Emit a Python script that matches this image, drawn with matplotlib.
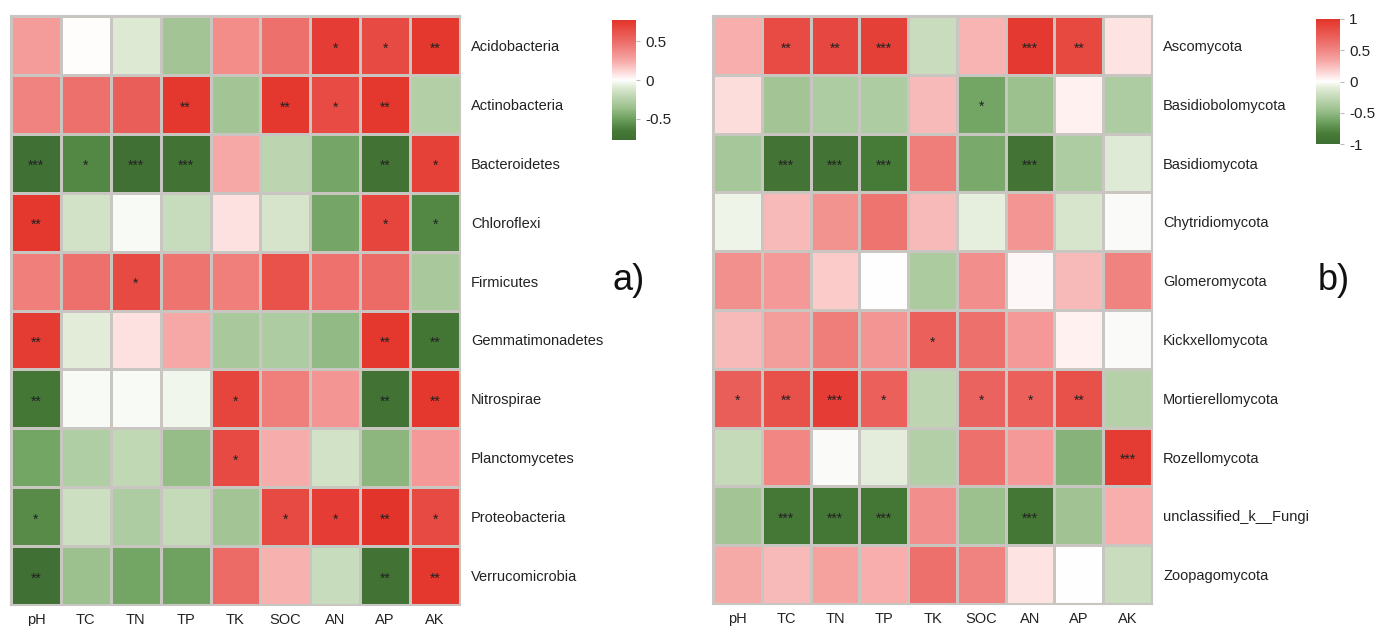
import numpy as np
import matplotlib
matplotlib.use("Agg")
import matplotlib.pyplot as plt
from matplotlib.colors import LinearSegmentedColormap, Normalize

plt.rcParams['font.family'] = ['Liberation Sans', 'DejaVu Sans']

columns = ["pH", "TC", "TN", "TP", "TK", "SOC", "AN", "AP", "AK"]

bacteria = ["Acidobacteria", "Actinobacteria", "Bacteroidetes", "Chloroflexi", "Firmicutes",
            "Gemmatimonadetes", "Nitrospirae", "Planctomycetes", "Proteobacteria", "Verrucomicrobia"]
bact_r = [
    [0.30, 0.01, -0.10, -0.32, 0.36, 0.48, 0.72, 0.66, 0.75],
    [0.40, 0.48, 0.56, 0.75, -0.32, 0.75, 0.65, 0.75, -0.26],
    [-0.75, -0.60, -0.75, -0.72, 0.25, -0.22, -0.47, -0.72, 0.70],
    [0.75, -0.14, -0.02, -0.18, 0.08, -0.13, -0.47, 0.68, -0.60],
    [0.42, 0.48, 0.66, 0.46, 0.42, 0.62, 0.47, 0.50, -0.30],
    [0.73, -0.08, 0.08, 0.25, -0.30, -0.28, -0.38, 0.74, -0.70],
    [-0.68, -0.02, -0.02, -0.04, 0.68, 0.42, 0.33, -0.72, 0.74],
    [-0.48, -0.27, -0.20, -0.37, 0.66, 0.24, -0.14, -0.40, 0.31],
    [-0.58, -0.16, -0.28, -0.19, -0.32, 0.66, 0.72, 0.76, 0.66],
    [-0.75, -0.35, -0.48, -0.49, 0.50, 0.22, -0.18, -0.72, 0.75],
]
bact_sig = [
    ["", "", "", "", "", "", "*", "*", "**"],
    ["", "", "", "**", "", "**", "*", "**", ""],
    ["***", "*", "***", "***", "", "", "", "**", "*"],
    ["**", "", "", "", "", "", "", "*", "*"],
    ["", "", "*", "", "", "", "", "", ""],
    ["**", "", "", "", "", "", "", "**", "**"],
    ["**", "", "", "", "*", "", "", "**", "**"],
    ["", "", "", "", "*", "", "", "", ""],
    ["*", "", "", "", "", "*", "*", "**", "*"],
    ["**", "", "", "", "", "", "", "**", "**"],
]

fungi = ["Ascomycota", "Basidiobolomycota", "Basidiomycota", "Chytridiomycota", "Glomeromycota",
         "Kickxellomycota", "Mortierellomycota", "Rozellomycota", "unclassified_k__Fungi", "Zoopagomycota"]
fung_r = [
    [0.30, 0.85, 0.87, 0.92, -0.22, 0.28, 0.96, 0.86, 0.10],
    [0.12, -0.42, -0.36, -0.36, 0.25, -0.62, -0.46, 0.05, -0.36],
    [-0.40, -0.92, -0.92, -0.85, 0.55, -0.60, -0.92, -0.36, -0.12],
    [-0.06, 0.25, 0.43, 0.60, 0.25, -0.09, 0.42, -0.16, -0.02],
    [0.45, 0.40, 0.19, 0.0, -0.37, 0.46, 0.03, 0.25, 0.52],
    [0.25, 0.38, 0.55, 0.42, 0.72, 0.62, 0.40, 0.05, -0.02],
    [0.73, 0.82, 0.93, 0.72, -0.28, 0.70, 0.72, 0.82, -0.32],
    [-0.25, 0.50, -0.02, -0.10, -0.33, 0.62, 0.40, -0.54, 0.95],
    [-0.42, -0.88, -0.90, -0.90, 0.46, -0.46, -0.90, -0.43, 0.30],
    [0.32, 0.25, 0.36, 0.30, 0.62, 0.52, 0.10, 0.0, -0.22],
]
fung_sig = [
    ["", "**", "**", "***", "", "", "***", "**", ""],
    ["", "", "", "", "", "*", "", "", ""],
    ["", "***", "***", "***", "", "", "***", "", ""],
    ["", "", "", "", "", "", "", "", ""],
    ["", "", "", "", "", "", "", "", ""],
    ["", "", "", "", "*", "", "", "", ""],
    ["*", "**", "***", "*", "", "*", "*", "**", ""],
    ["", "", "", "", "", "", "", "", "***"],
    ["", "***", "***", "***", "", "", "***", "", ""],
    ["", "", "", "", "", "", "", "", ""],
]

cmap = LinearSegmentedColormap.from_list("gwr", [
    (0.0, "#3F6E33"), (0.08, "#477B37"), (0.18, "#6FA261"), (0.27, "#9CC08E"),
    (0.36, "#BDD6B1"), (0.45, "#E3EDDA"), (0.5, "#FFFFFF"), (0.55, "#FDE3E2"),
    (0.66, "#F6A9A7"), (0.8, "#EE7470"), (1.0, "#E3332A")])

fig = plt.figure(figsize=(13.75, 6.26), dpi=100)


def draw(ax_rect, cax_rect, data, sig, rows, vmax, ticks, tick_labels, panel, panel_x):
    ax = fig.add_axes(ax_rect)
    arr = np.array(data)
    norm = Normalize(-vmax, vmax)
    mesh = ax.pcolormesh(arr, cmap=cmap, norm=norm, edgecolors="#C9C5C1", linewidth=1.0)
    ax.set_xlim(0, arr.shape[1])
    ax.set_ylim(arr.shape[0], 0)
    ax.set_xticks(np.arange(arr.shape[1]) + 0.5)
    ax.set_xticklabels(columns, fontsize=10.5, color="#222222")
    ax.set_yticks(np.arange(arr.shape[0]) + 0.5)
    ax.set_yticklabels(rows, fontsize=10.5, color="#222222")
    ax.yaxis.tick_right()
    ax.tick_params(length=0, pad=8)
    ax.tick_params(axis="x", pad=6)
    for s in ax.spines.values():
        s.set_color("#C9C5C1")
        s.set_linewidth(1.5)
    for i in range(arr.shape[0]):
        for j in range(arr.shape[1]):
            if sig[i][j]:
                ax.text(j + 0.5, i + 0.55, sig[i][j], ha="center", va="center",
                        fontsize=10, color="#222222")
    cax = fig.add_axes(cax_rect)
    cb = fig.colorbar(mesh, cax=cax, ticks=ticks)
    cb.ax.set_yticklabels(tick_labels, fontsize=11, color="#222222")
    cb.outline.set_visible(False)
    cb.ax.tick_params(length=3, color="#BBBBBB", width=0.8)
    fig.text(panel_x, 1 - 280 / 626, panel, fontsize=26, ha="left", va="center", color="#111111")


draw([11 / 1375, 21 / 626, 449 / 1375, 589 / 626],
     [612 / 1375, (626 - 140) / 626, 24 / 1375, 120 / 626],
     bact_r, bact_sig, bacteria, 0.77, [-0.5, 0, 0.5], ["-0.5", "0", "0.5"], "a)", 613 / 1375)

draw([713 / 1375, 22 / 626, 439 / 1375, 588 / 626],
     [1316 / 1375, (626 - 144) / 626, 24 / 1375, 125 / 626],
     fung_r, fung_sig, fungi, 1.0, [-1, -0.5, 0, 0.5, 1], ["-1", "-0.5", "0", "0.5", "1"], "b)", 1318 / 1375)

fig.savefig("out.png", dpi=100)
